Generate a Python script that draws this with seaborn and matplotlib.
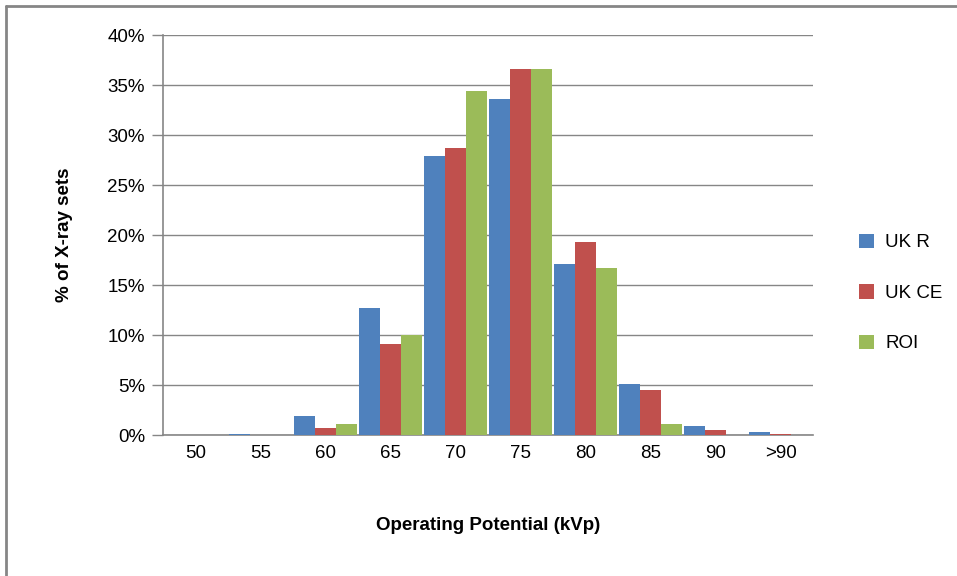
#recreate the kVp distribution bar chart

import numpy as np
import pandas as pd
import seaborn as sns
import matplotlib.pyplot as plt
from matplotlib.lines import Line2D
from matplotlib.ticker import FuncFormatter, FixedLocator

#data (% of X-ray sets)
kvp = ['50', '55', '60', '65', '70', '75', '80', '85', '90', '>90']
uk_r = [0.0, 0.1, 1.9, 12.7, 27.9, 33.6, 17.1, 5.1, 0.9, 0.3]
uk_ce = [0.0, 0.0, 0.7, 9.1, 28.7, 36.6, 19.3, 4.5, 0.5, 0.1]
roi = [0.0, 0.0, 1.1, 10.0, 34.4, 36.6, 16.7, 1.1, 0.0, 0.0]
groups = ['UK R', 'UK CE', 'ROI']
colours = ['#4F81BD', '#C0504D', '#9BBB59']

#long form table for seaborn
data = pd.DataFrame({
    'kVp': kvp * 3,
    'Pct': uk_r + uk_ce + roi,
    'Group': np.repeat(groups, len(kvp)),
})

sns.set_style('white')
plt.rcParams['font.family'] = ['Liberation Sans', 'DejaVu Sans']
plt.rcParams['text.color'] = 'black'
plt.rcParams['axes.labelcolor'] = 'black'
plt.rcParams['xtick.labelcolor'] = 'black'
plt.rcParams['ytick.labelcolor'] = 'black'

fig = plt.figure(figsize=(9.57, 5.76), dpi=100)
ax = fig.add_axes([163/957, 1-435/576, 650/957, 400/576])

sns.barplot(data=data, x='kVp', y='Pct', hue='Group', order=kvp,
            hue_order=groups, palette=colours, width=0.96,
            saturation=1, ax=ax, zorder=3, linewidth=0)

grey = '#868686'
ax.set_ylim(0, 40)
ax.set_xlim(-0.5, len(kvp) - 0.5)
ax.set_yticks(np.arange(0, 41, 5))
ax.yaxis.set_major_formatter(FuncFormatter(lambda v, p: '%d%%' % v))
ax.grid(axis='y', color=grey, lw=1, zorder=0)
ax.grid(axis='x', visible=False)

#tick marks between categories
ax.xaxis.set_minor_locator(FixedLocator(np.arange(-0.5, len(kvp), 1)))
ax.tick_params(axis='x', which='major', length=0, pad=7, labelsize=13.5)
ax.tick_params(axis='x', which='minor', length=8, width=1, color=grey)
ax.tick_params(axis='y', length=8, width=1, color=grey, pad=5, labelsize=13.5, left=True)

for s in ['top', 'right']:
    ax.spines[s].set_visible(False)
for s in ['left', 'bottom']:
    ax.spines[s].set_color(grey)
    ax.spines[s].set_linewidth(1.2)

ax.set_xlabel('Operating Potential (kVp)', fontsize=13.5, fontweight='bold', labelpad=40)
ax.set_ylabel('% of X-ray sets', fontsize=13.5, fontweight='bold', labelpad=25)

ax.legend(title=None, frameon=False, fontsize=13.5, loc='center left',
          bbox_to_anchor=(1.045, 0.355), handlelength=0.8, handleheight=0.8,
          handletextpad=0.6, labelspacing=1.75)

#chart frame (top and left edges only)
fig.add_artist(Line2D([6/957, 6/957], [0, 1-6/576], color=grey, lw=2))
fig.add_artist(Line2D([6/957, 1], [1-6/576, 1-6/576], color=grey, lw=2))

plt.savefig('out.png', dpi=100)
